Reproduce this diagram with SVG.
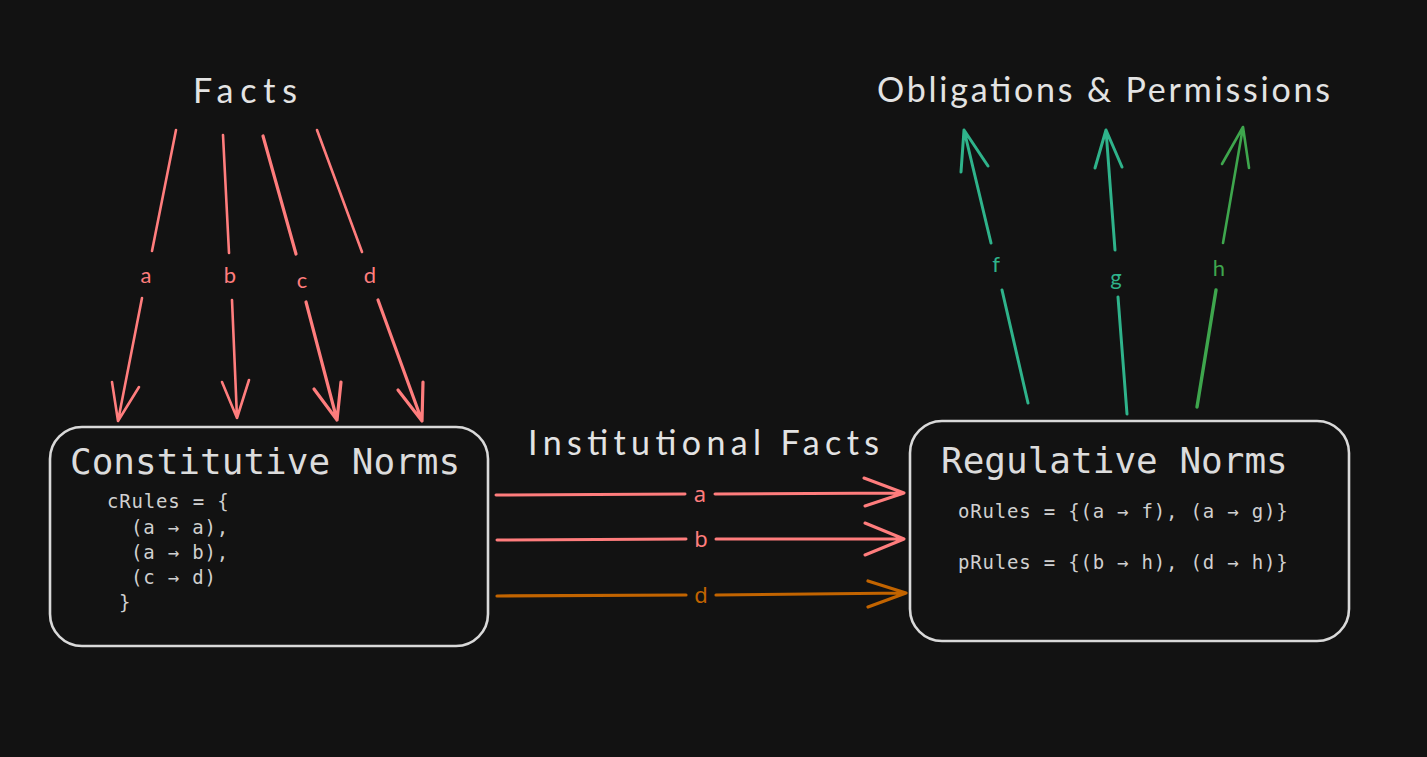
<svg xmlns="http://www.w3.org/2000/svg" width="1427" height="757" viewBox="0 0 1427 757">
<defs>
<style>
.hand{font-family:"Lato","Noto Sans",sans-serif;fill:#e3e3e3;}
.title{font-family:"DejaVu Sans Mono","Liberation Mono",monospace;font-size:36px;fill:#dcdcdc;}
.code{font-family:"DejaVu Sans Mono","Liberation Mono",monospace;font-size:19px;letter-spacing:0.8px;fill:#d0d0d0;}
.box{fill:none;stroke:#d9d9d9;stroke-width:2.6;}
.red{stroke:#ff7d7d;fill:none;stroke-linecap:round;stroke-linejoin:round;}
.teal{stroke:#2fb38b;fill:none;stroke-linecap:round;stroke-linejoin:round;}
.green{stroke:#3ea64d;fill:none;stroke-linecap:round;stroke-linejoin:round;}
.orange{stroke:#c26400;fill:none;stroke-linecap:round;stroke-linejoin:round;}
.lbl{font-family:"Lato","Noto Sans",sans-serif;font-size:22px;text-anchor:middle;}
.lblh{font-family:"Noto Sans","Lato",sans-serif;font-size:22px;text-anchor:middle;}
</style>
</defs>
<rect x="0" y="0" width="1427" height="757" fill="#121212"/>

<g id="facts-label">
<text class="hand" x="193" y="103" font-size="34" textLength="104" lengthAdjust="spacing">Facts</text>
</g>
<g id="obligations-label">
<text class="hand" x="877" y="102" font-size="34" textLength="453" lengthAdjust="spacing">Obligations &amp; Permissions</text>
</g>
<g id="institutional-label">
<text class="hand" x="528" y="455" font-size="34" textLength="351" lengthAdjust="spacing">Institutional Facts</text>
</g>

<g id="constitutive-norms">
<rect class="box" x="50" y="427" width="438" height="219" rx="32"/>
<text class="title" x="70" y="474">Constitutive Norms</text>
<text class="code" x="107" y="508">cRules = {</text>
<text class="code" x="131" y="534">(a → a),</text>
<text class="code" x="131" y="559">(a → b),</text>
<text class="code" x="131" y="584">(c → d)</text>
<text class="code" x="119" y="609">}</text>
</g>

<g id="regulative-norms">
<rect class="box" x="910" y="421" width="439" height="220" rx="32"/>
<text class="title" x="941" y="473">Regulative Norms</text>
<text class="code" x="958" y="518">oRules = {(a → f), (a → g)}</text>
<text class="code" x="958" y="569">pRules = {(b → h), (d → h)}</text>
</g>

<g id="connectors">
<g class="red" stroke-width="2.6">
<path d="M176 130 L152 251"/>
<path d="M142 298 L118 421 M112 382 L118 421 L139 387"/>
<path d="M223 135 L229 253"/>
<path d="M232 300 L237 418 M222 382 L237 418 L249 380"/>
<path d="M263 136 L296 254" stroke-width="3.2"/>
<path d="M306 302 L337 420 M314 389 L337 420 L341 382" stroke-width="3.2"/>
<path d="M317 130 L362 252"/>
<path d="M378 300 L422 421 M398 390 L422 421 L423 382" stroke-width="3.2"/>
</g>
<g fill="#ff7d7d">
<text class="lbl" x="146" y="283">a</text>
<text class="lbl" x="230" y="283">b</text>
<text class="lbl" x="302" y="288">c</text>
<text class="lbl" x="370" y="283">d</text>
</g>

<g stroke-width="3">
<path class="teal" d="M1028 403 L1002 290"/>
<path class="teal" d="M991 243 L964 130 M961 172 L964 130 L988 166"/>
<path class="teal" d="M1127 414 L1118 297"/>
<path class="teal" d="M1115 250 L1106 130 M1095 168 L1106 130 L1122 167"/>
<path class="green" d="M1197 407 L1216 290" stroke-width="3.4"/>
<path class="green" d="M1223 243 L1243 127 M1222 164 L1243 127 L1249 168" stroke-width="2.6"/>
</g>
<text class="lbl" x="996" y="272" fill="#2fb38b">f</text>
<text class="lbl" x="1116" y="285" fill="#2fb38b">g</text>
<text class="lbl" x="1219" y="276" fill="#3ea64d">h</text>

<path class="red" stroke-width="3" d="M496 495 L685 494 M715 494 L904 493 M864 478 L904 493 L865 506"/>
<path class="red" stroke-width="3" d="M497 540 L686 539 M716 539 L904 539 M865 523 L904 539 L865 555"/>
<path class="orange" stroke-width="3.2" d="M497 596 L686 595 M716 595 L906 593 M868 581 L906 593 L868 607"/>
<text class="lblh" x="700" y="502" fill="#ff7d7d">a</text>
<text class="lblh" x="701" y="547" fill="#ff7d7d">b</text>
<text class="lblh" x="701" y="603" fill="#c26400">d</text>
</g>
</svg>
